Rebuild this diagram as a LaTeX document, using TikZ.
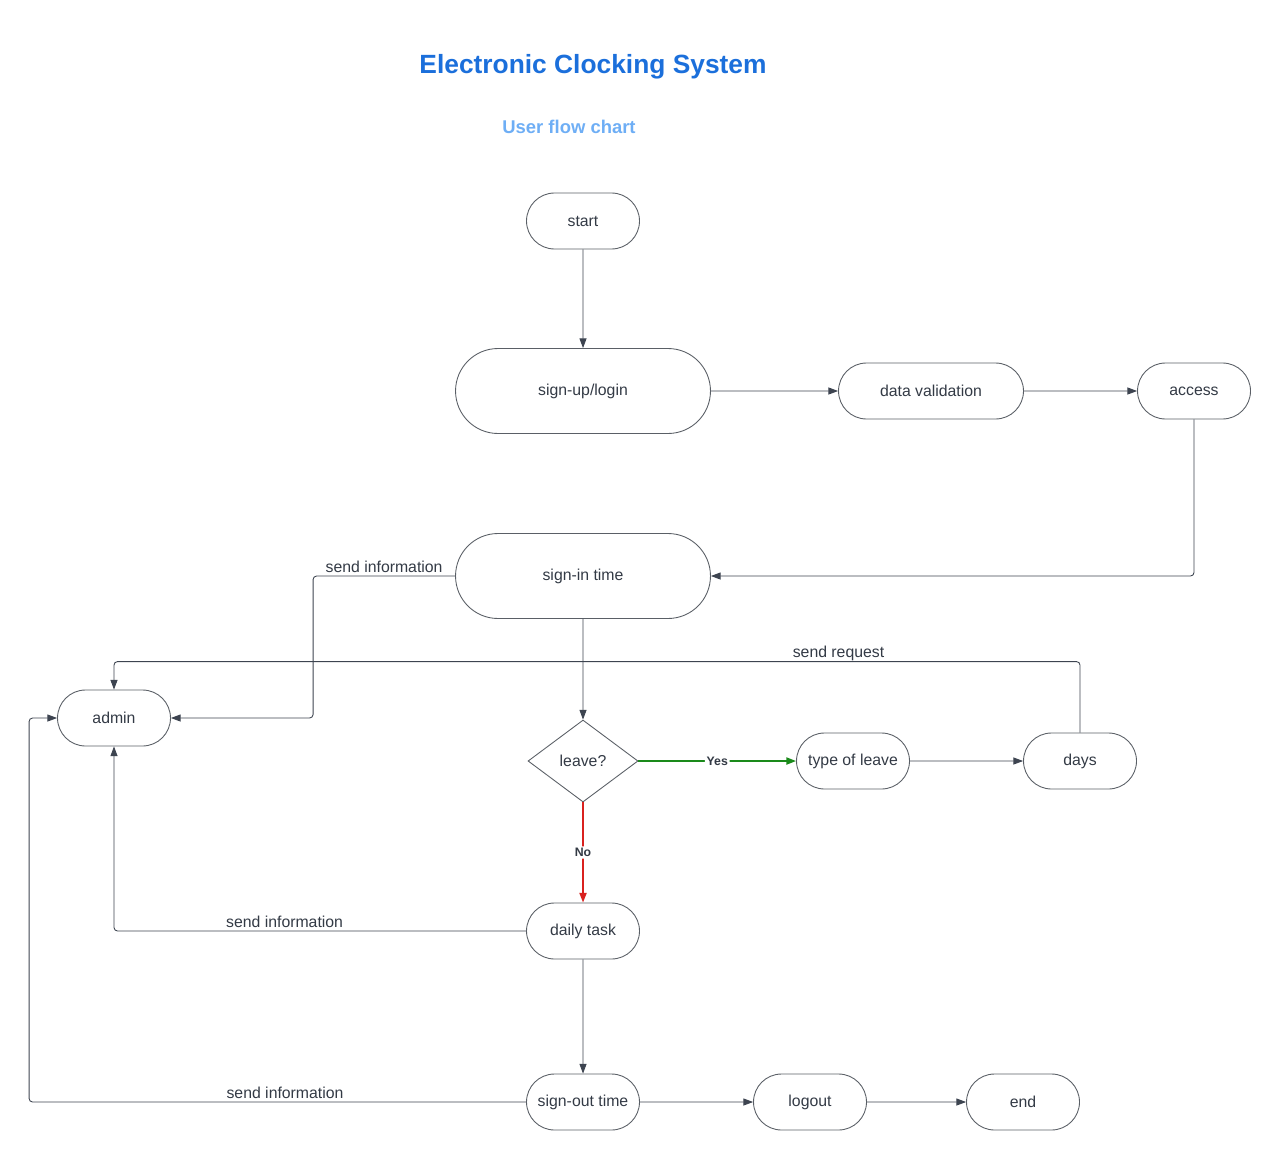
\documentclass[tikz,border=0pt]{standalone}
\usepackage{fontspec}
\setmainfont{Liberation Sans}
\usetikzlibrary{shapes.misc,shapes.geometric,arrows.meta}
\definecolor{linegray}{HTML}{3D4450}
\definecolor{boxgray}{HTML}{5A5F66}
\definecolor{textgray}{HTML}{333A45}
\definecolor{titleblue}{HTML}{1B6FDB}
\definecolor{subblue}{HTML}{6EAEF5}
\definecolor{yesgreen}{HTML}{1A8A1A}
\definecolor{nored}{HTML}{D9211F}
\begin{document}
\begin{tikzpicture}[x=0.02cm,y=-0.02cm]
        		\tikzstyle{terminal}=[rounded rectangle,draw=boxgray,line width=0.5pt,text=textgray,font=\fontsize{9}{11}\selectfont,minimum width=2.26cm,minimum height=1.12cm,inner sep=0pt]
        		\tikzstyle{decision}=[diamond,draw=boxgray,line width=0.5pt,text=textgray,font=\fontsize{9}{11}\selectfont,minimum width=2.2cm,minimum height=1.64cm,inner sep=0pt]
        		\tikzstyle{edge}=[draw=linegray,line width=0.5pt,-{Triangle[length=5.5pt,width=4pt]},rounded corners=2pt]
        		\tikzstyle{note}=[text=textgray,font=\fontsize{9}{11}\selectfont,anchor=south,inner sep=1.5pt]
        		\tikzstyle{answer}=[fill=white,text=textgray,font=\bfseries\fontsize{7}{8}\selectfont,inner sep=1pt]
        		\useasboundingbox (0,0) rectangle (1280,1159);
       			\begin{scope}
			        \node [text=titleblue,font=\bfseries\fontsize{15}{18}\selectfont] (title) at (593,67) {Electronic Clocking System};
			        \node [text=subblue,font=\bfseries\fontsize{10.5}{13}\selectfont] (subtitle) at (569,127) {User flow chart};
			        \node [terminal] (start) at (583,221) {start};
			        \node [terminal,minimum width=5.1cm,minimum height=1.7cm] (login) at (583,391) {sign-up/login};
			        \node [terminal,minimum width=3.7cm] (valid) at (931,391) {data validation};
			        \node [terminal] (access) at (1194,391) {access};
			        \node [terminal,minimum width=5.1cm,minimum height=1.7cm] (signin) at (583,576) {sign-in time};
			        \node [terminal] (admin) at (114,718) {admin};
			        \node [decision] (leave) at (583,761) {leave?};
			        \node [terminal] (type) at (853,761) {type of leave};
			        \node [terminal] (days) at (1080,761) {days};
			        \node [terminal] (task) at (583,931) {daily task};
			        \node [terminal] (signout) at (583,1102) {sign-out time};
			        \node [terminal] (logout) at (810,1102) {logout};
			        \node [terminal] (finish) at (1023,1102) {end};
			        \path[edge] (start) -- (login);
			        \path[edge] (login) -- (valid);
			        \path[edge] (valid) -- (access);
			        \path[edge] (access.south) |- (signin.east);
			        \path[edge] (signin.west) -- node[note] {send information} ++(-142,0) |- (admin.east);
			        \path[edge] (signin) -- (leave);
			        \path[edge] (days.north) -- ++(0,-71) -| node[note,pos=0.125,inner sep=0pt] {send request} (admin.north);
			        \path[edge,draw=yesgreen,line width=1pt] (leave.east) -- node[answer] {Yes} (type.west);
			        \path[edge,draw=nored,line width=1pt] (leave.south) -- node[answer] {No} (task.north);
			        \path[edge] (type) -- (days);
			        \path[edge] (task.west) -| node[note,pos=0.293] {send information} (admin.south);
			        \path[edge] (task) -- (signout);
			        \path[edge] (signout.west) -- node[note,pos=0.485] {send information} ++(-497,0) |- (admin.west);
			        \path[edge] (signout) -- (logout);
			        \path[edge] (logout) -- (finish);
        		\end{scope}
      		\end{tikzpicture}
\end{document}
